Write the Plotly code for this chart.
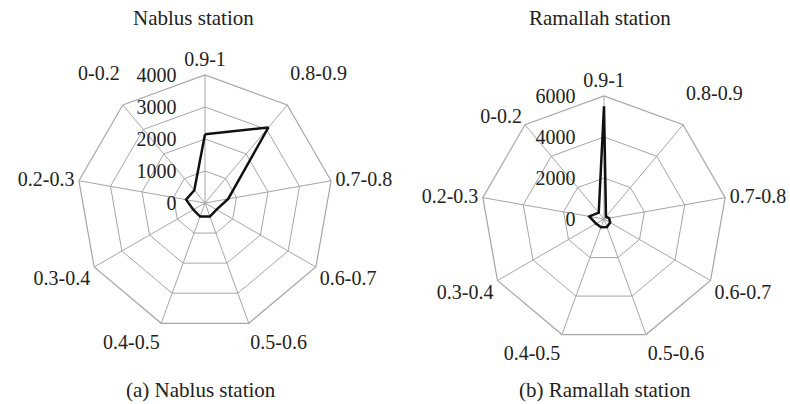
import plotly.graph_objects as go

categories = ["0.9-1", "0.8-0.9", "0.7-0.8", "0.6-0.7", "0.5-0.6",
              "0.4-0.5", "0.3-0.4", "0.2-0.3", "0-0.2"]
nablus = [2150, 3080, 735, 415, 450, 450, 420, 600, 520]
ramallah = [5500, 150, 250, 350, 420, 430, 450, 730, 400]

FONT = "Liberation Serif"
W, H = 790, 404
PAD = "\u00a0" * 5

def closed(v):
    return list(v) + [v[0]]

fig = go.Figure()
fig.add_trace(go.Scatterpolar(r=closed(nablus), theta=closed(categories), mode="lines",
                              line=dict(color="#111111", width=2.5), subplot="polar",
                              showlegend=False))
fig.add_trace(go.Scatterpolar(r=closed(ramallah), theta=closed(categories), mode="lines",
                              line=dict(color="#111111", width=2.5), subplot="polar2",
                              showlegend=False))

def dom(cx, cy, r):
    return dict(x=[(cx - r) / W, (cx + r) / W], y=[(H - cy - r) / H, (H - cy + r) / H])

def polar_cfg(cx, cy, r, rmax, dtick, raised):
    ticktext = [c + "<br> " if c in raised else c for c in categories]
    return dict(
        domain=dom(cx, cy, r),
        gridshape="linear",
        bgcolor="white",
        angularaxis=dict(direction="clockwise", rotation=90, categoryorder="array",
                         categoryarray=categories, tickmode="array", tickvals=categories,
                         ticktext=ticktext, showline=True, linecolor="#a6a6a6",
                         linewidth=1.2, gridcolor="#a6a6a6", gridwidth=1.2, ticks="",
                         tickfont=dict(family=FONT, size=20, color="#222")),
        radialaxis=dict(range=[0, rmax], dtick=dtick, angle=90, tickangle=90,
                        showline=False, gridcolor="#a6a6a6", gridwidth=1.2, ticks="",
                        side="counterclockwise", ticksuffix=PAD,
                        tickfont=dict(family=FONT, size=20, color="#222")),
    )

def label(text, x, y):
    return dict(text=text, x=x / W, y=1 - y / H, xref="paper", yref="paper",
                xanchor="center", yanchor="middle", showarrow=False,
                font=dict(size=21, family=FONT, color="#222"))

fig.update_layout(
    width=W, height=H, margin=dict(l=0, r=0, t=0, b=0),
    paper_bgcolor="white", plot_bgcolor="white",
    polar=polar_cfg(205, 203, 128, 4000, 1000, {"0.8-0.9", "0-0.2"}),
    polar2=polar_cfg(604, 219, 123, 6000, 2000, {"0.8-0.9"}),
    font=dict(family=FONT, color="#222"),
    annotations=[
        label("Nablus station", 193, 18),
        label("Ramallah station", 600, 18),
        label("(a) Nablus station", 201, 390),
        label("(b) Ramallah station", 605, 390),
    ],
)

fig.write_html("out.html")
